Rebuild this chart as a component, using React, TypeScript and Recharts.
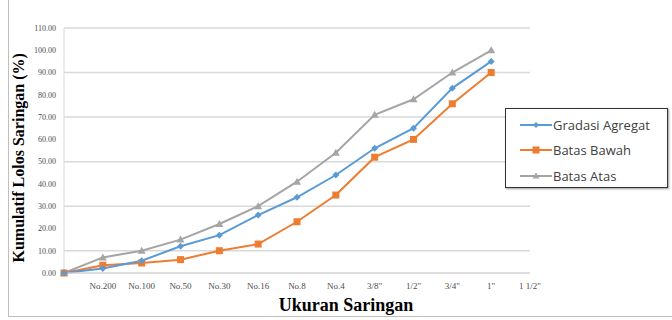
import { LineChart, Line, XAxis, YAxis, CartesianGrid } from 'recharts';

const sieves = ['', 'No.200', 'No.100', 'No.50', 'No.30', 'No.16', 'No.8', 'No.4', '3/8"', '1/2"', '3/4"', '1"', '1 1/2"'];
const gradasi = [0, 2, 5.5, 12, 17, 26, 34, 44, 56, 65, 83, 95];
const batasBawah = [0, 3.5, 4.5, 6, 10, 13, 23, 35, 52, 60, 76, 90];
const batasAtas = [0, 7, 10, 15, 22, 30, 41, 54, 71, 78, 90, 100];
const yTicks = [0, 10, 20, 30, 40, 50, 60, 70, 80, 90, 100, 110];

const data = sieves.map((s, i) => ({
    sieve: s,
    gradasi: gradasi[i],
    bawah: batasBawah[i],
    atas: batasAtas[i],
}));

const BLUE = '#5B9BD5';
const ORANGE = '#ED7D31';
const GRAY = '#A5A5A5';

const Diamond = (props: any) => {
    const { cx, cy } = props;
    if (cx == null || cy == null) return null;
    return <path d={`M${cx},${cy - 3.5}L${cx + 3.5},${cy}L${cx},${cy + 3.5}L${cx - 3.5},${cy}Z`} fill={BLUE} />;
};

const Square = (props: any) => {
    const { cx, cy } = props;
    if (cx == null || cy == null) return null;
    return <rect x={cx - 3.5} y={cy - 3.5} width={7} height={7} fill={ORANGE} />;
};

const Triangle = (props: any) => {
    const { cx, cy } = props;
    if (cx == null || cy == null) return null;
    return <path d={`M${cx},${cy - 4}L${cx + 4},${cy + 3}L${cx - 4},${cy + 3}Z`} fill={GRAY} />;
};

const legendItems = [
    { label: 'Gradasi Agregat', color: BLUE, shape: 'diamond' },
    { label: 'Batas Bawah', color: ORANGE, shape: 'square' },
    { label: 'Batas Atas', color: GRAY, shape: 'triangle' },
];

function LegendBox() {
    return (
        <div
            style={{
                position: 'absolute',
                left: 505,
                top: 108,
                width: 163,
                height: 80,
                border: '1.5px solid #333',
                boxShadow: '1px 1px 2px rgba(0,0,0,0.4)',
                background: '#fff',
                boxSizing: 'border-box',
                paddingTop: 3,
            }}
        >
            {legendItems.map((it) => (
                <div key={it.label} style={{ display: 'flex', alignItems: 'center', height: 25.5, paddingLeft: 14 }}>
                    <svg width={32} height={10}>
                        <line x1={0} y1={5} x2={32} y2={5} stroke={it.color} strokeWidth={2} />
                        {it.shape === 'diamond' && <path d="M16,2L19,5L16,8L13,5Z" fill={it.color} />}
                        {it.shape === 'square' && <rect x={12.5} y={1.5} width={7} height={7} fill={it.color} />}
                        {it.shape === 'triangle' && <path d="M16,1.5L19.5,7.5L12.5,7.5Z" fill={it.color} />}
                    </svg>
                    <span style={{ fontFamily: 'Open Sans, sans-serif', fontSize: 13, color: '#404040', marginLeft: 1 }}>
                        {it.label}
                    </span>
                </div>
            ))}
        </div>
    );
}

export default function App() {
    return (
        <div style={{ position: 'absolute', left: 0, top: 0, width: 672, height: 320, background: '#fff' }}>
            <div
                style={{
                    position: 'absolute',
                    left: 8,
                    top: 0,
                    width: 664,
                    height: 316,
                    borderLeft: '1px solid #bfbfbf',
                    borderBottom: '1px solid #bfbfbf',
                }}
            />
            <LineChart
                width={672}
                height={320}
                data={data}
                margin={{ top: 28, right: 142, left: 8, bottom: 17 }}
                style={{ position: 'absolute', left: 0, top: 0 }}
            >
                <CartesianGrid vertical={false} stroke="#d9d9d9" strokeWidth={1.5} />
                <XAxis
                    dataKey="sieve"
                    interval={0}
                    height={30}
                    tickLine={false}
                    axisLine={{ stroke: '#d9d9d9' }}
                    tick={{ fontFamily: 'Liberation Serif', fontSize: 9, fill: '#4d4d4d' }}
                    tickMargin={4}
                    label={{
                        value: 'Ukuran Saringan',
                        position: 'insideBottom',
                        offset: -8,
                        dx: 49,
                        style: { fontFamily: 'Liberation Serif', fontSize: 18, fontWeight: 'bold', fill: '#000' },
                    }}
                />
                <YAxis
                    domain={[0, 110]}
                    ticks={yTicks}
                    width={56}
                    tickLine={false}
                    axisLine={{ stroke: '#d9d9d9' }}
                    tickFormatter={(v: number) => v.toFixed(2)}
                    tick={{ fontFamily: 'Liberation Serif', fontSize: 8, fill: '#4d4d4d' }}
                    label={{
                        value: 'Kumulatif  Lolos Saringan (%)',
                        angle: -90,
                        position: 'insideLeft',
                        offset: 10,
                        dy: 112,
                        style: { fontFamily: 'Liberation Serif', fontSize: 16, fontWeight: 'bold', fill: '#000', whiteSpace: 'pre' },
                    }}
                />
                <Line
                    dataKey="atas"
                    name="Batas Atas"
                    stroke={GRAY}
                    strokeWidth={2}
                    dot={<Triangle />}
                    activeDot={false}
                    isAnimationActive={false}
                />
                <Line
                    dataKey="bawah"
                    name="Batas Bawah"
                    stroke={ORANGE}
                    strokeWidth={2}
                    dot={<Square />}
                    activeDot={false}
                    isAnimationActive={false}
                />
                <Line
                    dataKey="gradasi"
                    name="Gradasi Agregat"
                    stroke={BLUE}
                    strokeWidth={2}
                    dot={<Diamond />}
                    activeDot={false}
                    isAnimationActive={false}
                />
            </LineChart>
            <LegendBox />
        </div>
    );
}
